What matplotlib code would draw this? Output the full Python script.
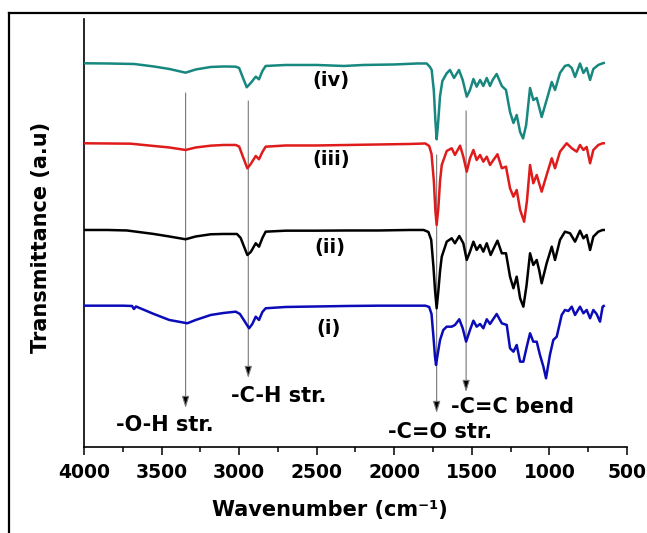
import matplotlib
matplotlib.use('Agg')
import matplotlib.pyplot as plt
from matplotlib.lines import Line2D
from matplotlib.ticker import MultipleLocator

plt.rcParams['font.family'] = ['DejaVu Sans']
plt.rcParams['font.weight'] = 'bold'

# --- Data (wavenumber, transmittance a.u., stacked) ---
curve_iv = [(4000, 372.7), (3850, 372.5), (3678, 372), (3550, 369.5), (3450, 367), (3345, 363.3),
            (3280, 366.5), (3183, 369), (3100, 369.5), (3022, 369.3), (3000, 368), (2975, 358),
            (2951, 348.7), (2925, 353), (2893, 359.3), (2872, 356.7), (2850, 365), (2829, 370),
            (2700, 371), (2500, 371), (2324, 370), (2200, 371), (2000, 371.5), (1850, 372.5),
            (1791, 372.5), (1770, 369), (1759, 366), (1745, 345), (1735, 315), (1727, 296.7),
            (1718, 312), (1705, 340), (1690, 355), (1662, 362.7), (1641, 366), (1615, 358),
            (1583, 366), (1559, 356), (1533, 339.3), (1512, 346), (1490, 357), (1469, 349.3),
            (1447, 356), (1426, 350), (1404, 358), (1383, 350), (1366, 356), (1340, 362),
            (1307, 350), (1280, 346), (1254, 324), (1232, 313), (1211, 321), (1189, 304),
            (1170, 297.5), (1150, 311), (1125, 348), (1104, 336), (1082, 338), (1065, 328),
            (1050, 319), (1018, 336), (985, 354), (964, 346), (932, 363), (900, 370), (878, 371),
            (856, 368), (835, 359), (803, 372.5), (781, 363), (760, 368), (738, 356), (717, 367),
            (685, 371), (660, 372.5), (650, 373)]

curve_iii = [(4000, 292.7), (3850, 292.5), (3700, 292.3), (3550, 290), (3450, 288.5), (3345, 286),
             (3280, 288.5), (3183, 290.3), (3100, 291), (3022, 291), (3000, 289.5), (2975, 279),
             (2947, 267.7), (2925, 272), (2893, 280), (2872, 276.7), (2850, 284), (2829, 289.3),
             (2700, 290.5), (2500, 290.5), (2300, 291), (2100, 291.5), (1900, 292), (1800, 292.5),
             (1775, 290), (1760, 282), (1745, 255), (1735, 225), (1727, 211), (1716, 228),
             (1705, 255), (1694, 271), (1662, 285), (1630, 287.7), (1609, 281), (1576, 290.3),
             (1555, 279.3), (1533, 264.3), (1512, 277.7), (1490, 286), (1469, 276), (1447, 281),
             (1426, 274.3), (1404, 279.3), (1383, 271), (1361, 276), (1335, 281.7), (1307, 267.7),
             (1280, 269.3), (1254, 247.7), (1232, 239.3), (1211, 246), (1189, 226), (1163, 214.3),
             (1145, 235), (1125, 271), (1104, 252.7), (1082, 261), (1065, 252), (1050, 244.3),
             (1018, 261), (985, 277.7), (964, 267.7), (932, 284.3), (889, 292.7), (856, 287.7),
             (824, 284.3), (803, 291), (781, 286), (760, 289), (738, 272.7), (717, 286),
             (685, 291), (657, 292.7), (650, 292.7)]

curve_ii = [(4000, 206), (3850, 206), (3723, 205.5), (3550, 202), (3450, 199.5), (3345, 196.7),
            (3280, 199.5), (3183, 201.7), (3100, 202), (3014, 202), (2990, 198), (2970, 190),
            (2947, 181), (2925, 184), (2893, 192.7), (2872, 189.3), (2850, 198), (2829, 204.3),
            (2700, 205.3), (2500, 205.3), (2300, 205.5), (2100, 205.5), (1900, 206), (1811, 206),
            (1780, 204), (1762, 196), (1748, 170), (1737, 145), (1727, 127.7), (1716, 145),
            (1705, 165), (1694, 179.3), (1662, 194.3), (1630, 197.7), (1609, 192.7), (1581, 200),
            (1555, 192.7), (1533, 176), (1512, 184.3), (1490, 194.3), (1469, 186), (1447, 191),
            (1426, 184.3), (1404, 192.7), (1379, 181), (1361, 187), (1335, 195.3), (1307, 182.7),
            (1280, 182.7), (1254, 159.3), (1232, 147.7), (1211, 159.3), (1189, 137.7),
            (1168, 129.3), (1148, 150), (1125, 182.7), (1104, 171), (1082, 176), (1065, 165),
            (1050, 152.7), (1018, 172.7), (985, 189.3), (964, 176), (932, 196), (900, 204.3),
            (867, 202.7), (835, 194.3), (803, 205.3), (781, 197.7), (760, 201), (738, 186),
            (717, 199.3), (685, 204.3), (657, 206), (650, 206)]

curve_i = [(4000, 130.3), (3750, 130.3), (3690, 130), (3678, 127), (3665, 129.5), (3550, 122),
           (3450, 116), (3334, 112.7), (3280, 116), (3183, 121), (3100, 123), (3022, 124.3),
           (2995, 122), (2970, 116), (2936, 107.7), (2915, 112), (2893, 119.3), (2872, 116),
           (2850, 124), (2829, 127.7), (2700, 129), (2500, 129.5), (2300, 130), (2100, 130.3),
           (1900, 130.3), (1800, 130.3), (1775, 129), (1760, 122), (1748, 100), (1738, 80),
           (1731, 71), (1720, 82), (1705, 96), (1684, 106), (1662, 109.3), (1630, 109.3),
           (1609, 111), (1581, 116.7), (1559, 107.7), (1537, 94.3), (1512, 106), (1490, 115.3),
           (1469, 109.3), (1447, 112), (1426, 107.7), (1404, 116.7), (1383, 112), (1366, 116),
           (1340, 122), (1307, 112.7), (1275, 111), (1254, 87.7), (1232, 84.3), (1211, 91),
           (1189, 74.3), (1168, 74.3), (1145, 90), (1125, 102.7), (1104, 94.3), (1082, 94.3),
           (1061, 81), (1039, 69.3), (1022, 57.7), (997, 81), (975, 96), (953, 99.3), (921, 121),
           (900, 126), (878, 125), (856, 129.3), (835, 121), (803, 129.3), (781, 122.7),
           (760, 126), (738, 117.7), (717, 126), (696, 122), (674, 114.3), (657, 129.3), (650, 130)]

curves = [curve_i, curve_ii, curve_iii, curve_iv]
curve_labels = ['(i)', '(ii)', '(iii)', '(iv)']
colors = ['#0b0bb8', 'black', '#e01b1b', '#17877f']
label_pos = [(2421, 107), (2414, 188), (2408, 276), (2408, 355)]

# peak markers: label, wavenumber, arrow start, arrow tip, text position
peaks = ['-O-H str.', '-C-H str.', '-C=O str.', '-C=C bend']
peak_wn = [3345, 2941, 1727, 1537]
arrow_start = [343, 335, 281, 325]
arrow_tip = [28, 58, 23, 44]
peak_text = [(3478, 11), (2746, 40), (1705, 4), (1235, 28.5)]

# --- Plot ---
fig = plt.figure(figsize=(6.47, 5.33), dpi=100)
ax = fig.add_axes([0.1298, 0.1614, 0.8393, 0.803])

for pts, c in zip(curves, colors):
    wn = [p[0] for p in pts]
    tr = [p[1] for p in pts]
    ax.plot(wn, tr, color=c, lw=1.8, zorder=3)

for lab, (lx, ly) in zip(curve_labels, label_pos):
    ax.text(lx, ly, lab, fontsize=14, fontweight='bold', ha='center', va='center', zorder=4)

for lab, w, s, t, (tx, ty) in zip(peaks, peak_wn, arrow_start, arrow_tip, peak_text):
    ax.annotate('', xy=(w, t), xytext=(w, s),
                arrowprops=dict(arrowstyle='-|>,head_length=0.7,head_width=0.22',
                                ec='#777777', fc='black', lw=0.8, shrinkA=0, shrinkB=0),
                zorder=2)
    ax.text(tx, ty, lab, fontsize=15, fontweight='bold', ha='center', va='center')

ax.set_xlim(4000, 500)
ax.set_ylim(-11, 417)
ax.xaxis.set_major_locator(MultipleLocator(500))
ax.xaxis.set_minor_locator(MultipleLocator(250))
ax.tick_params(axis='x', which='major', direction='out', length=5.8, width=1.1,
               labelsize=13.5, pad=5.5)
ax.tick_params(axis='x', which='minor', direction='out', length=3.6, width=1.1)
ax.set_yticks([])
for lbl in ax.get_xticklabels():
    lbl.set_fontweight('bold')
ax.spines['top'].set_visible(False)
ax.spines['right'].set_visible(False)
ax.spines['left'].set_linewidth(1.2)
ax.spines['bottom'].set_linewidth(1.2)

ax.set_xlabel('Wavenumber (cm⁻¹)', fontsize=15, fontweight='bold', va='center', ha='center')
ax.xaxis.set_label_coords(0.453, -0.147)
ax.set_ylabel('Transmittance (a.u)', fontsize=15, fontweight='bold', va='center', ha='center')
ax.yaxis.set_label_coords(-0.0792, 0.4907)

# outer frame (left and top edges visible)
fx = 9 / 647
fy = 1 - 13 / 533
fig.add_artist(Line2D([fx, fx], [0, fy], transform=fig.transFigure, color='black', lw=1.6))
fig.add_artist(Line2D([fx, 1], [fy, fy], transform=fig.transFigure, color='black', lw=1.6))

fig.savefig('out.png', dpi=100)
